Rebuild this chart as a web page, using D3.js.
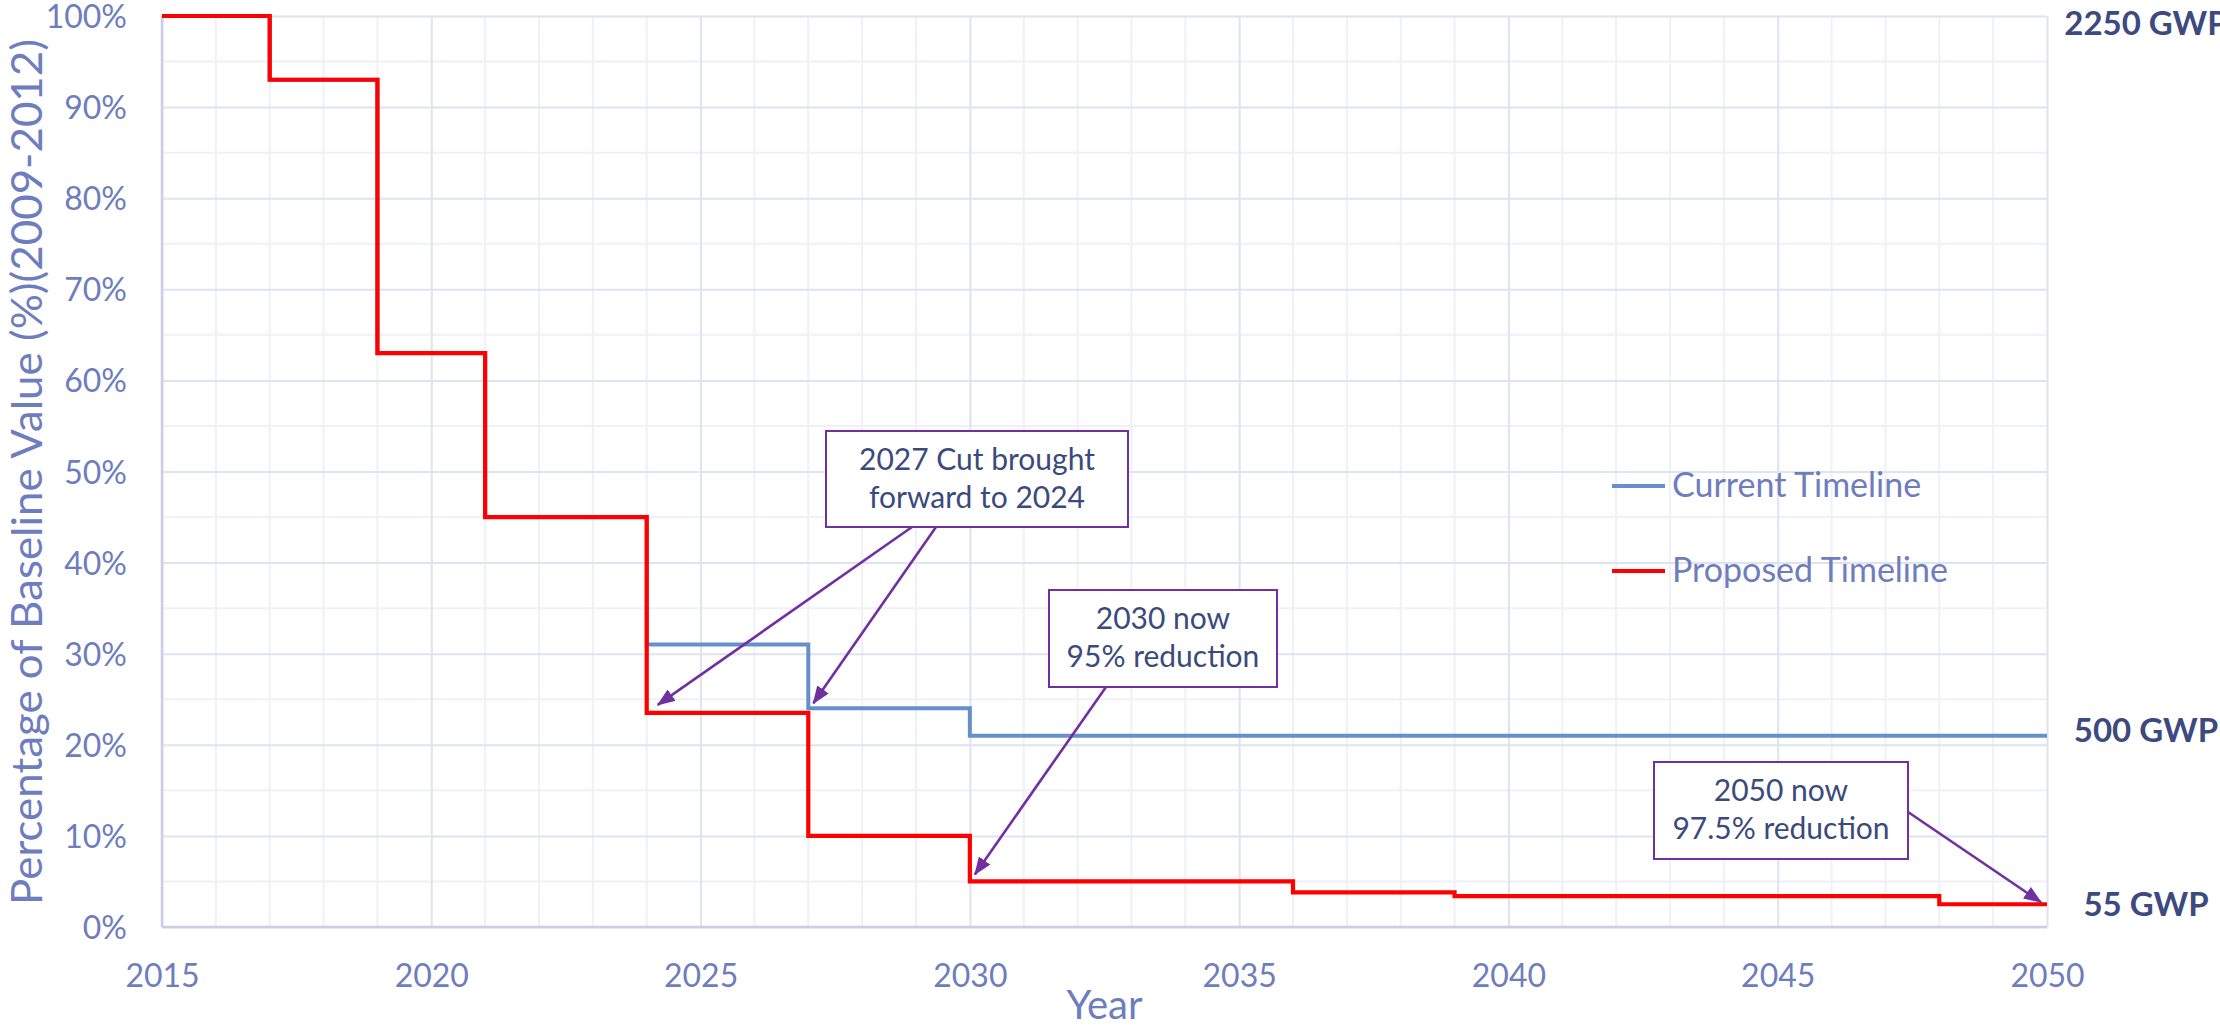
<!DOCTYPE html>
<html>
<head>
<meta charset="utf-8">
<script src="https://cdn.jsdelivr.net/npm/d3@7"></script>
<style>
  html, body { margin: 0; padding: 0; background: #ffffff; }
  svg { display: block; font-family: Lato, "Open Sans", sans-serif; }
</style>
</head>
<body>
<svg id="chart" width="2220" height="1028"></svg>
<script>
// Refrigerant phase-down steps, % of the 2009-2012 baseline
const currentYears  = [2015, 2017, 2019, 2021, 2024, 2027, 2030, 2050];
const currentValues = [100, 93, 63, 45, 31, 24, 21, 21];

const proposedYears  = [2015, 2017, 2019, 2021, 2024, 2027, 2030, 2036, 2039, 2048, 2050];
const proposedValues = [100, 93, 63, 45, 23.5, 10, 5, 3.8, 3.4, 2.5, 2.5];

const seriesNames = ["Current Timeline", "Proposed Timeline"];

const xTickValues = [2015, 2020, 2025, 2030, 2035, 2040, 2045, 2050];
const yTickValues = [0, 10, 20, 30, 40, 50, 60, 70, 80, 90, 100];

const gwpLabels = ["2250 GWP", "500 GWP", "55 GWP"];
const gwpLevels = [100, 21, 2.5];

const noteLines = [
  ["2027 Cut brought", "forward to 2024"],
  ["2030 now", "95% reduction"],
  ["2050 now", "97.5% reduction"]
];
// points each note's arrows aim at: [year, percent]
const noteTargets = [
  [[2024, 23.5], [2027, 24]],
  [[2030, 5]],
  [[2050, 2.5]]
];

const svg = d3.select("#chart");
const plot = { left: 162, right: 2047, top: 16, bottom: 927 };

const x = d3.scaleLinear().domain([2015, 2050]).range([plot.left, plot.right]);
const y = d3.scaleLinear().domain([0, 100]).range([plot.bottom, plot.top]);

const tickColor = "#6e7dbd";
const noteColor = "#3b4a7d";
const arrowColor = "#7030a0";
const blue = "#6690cb";
const red = "#ff0000";

// ---- gridlines ----
const grid = svg.append("g");
grid.selectAll("line.vminor")
  .data(d3.range(2016, 2050).filter(v => v % 5 !== 0))
  .join("line")
  .attr("x1", d => x(d)).attr("x2", d => x(d))
  .attr("y1", plot.top).attr("y2", plot.bottom)
  .attr("stroke", "#eff0f8").attr("stroke-width", 2);
grid.selectAll("line.hminor")
  .data(d3.range(5, 100, 10))
  .join("line")
  .attr("x1", plot.left).attr("x2", plot.right)
  .attr("y1", d => y(d)).attr("y2", d => y(d))
  .attr("stroke", "#eff0f8").attr("stroke-width", 2);

// major gridlines come from the axes themselves
const xAxisGrid = d3.axisBottom(x).tickValues(xTickValues).tickSize(-(plot.bottom - plot.top)).tickFormat("");
const yAxisGrid = d3.axisLeft(y).tickValues(yTickValues).tickSize(-(plot.right - plot.left)).tickFormat("");
const gx = svg.append("g").attr("transform", `translate(0,${plot.bottom})`).call(xAxisGrid);
const gy = svg.append("g").attr("transform", `translate(${plot.left},0)`).call(yAxisGrid);
[gx, gy].forEach(g => {
  g.select(".domain").remove();
  g.selectAll(".tick line").attr("stroke", "#dfe2f0").attr("stroke-width", 2);
});

// axis baselines
svg.append("line")
  .attr("x1", plot.left).attr("x2", plot.left)
  .attr("y1", plot.top).attr("y2", plot.bottom)
  .attr("stroke", "#cbcfe6").attr("stroke-width", 2.5);
svg.append("line")
  .attr("x1", plot.left).attr("x2", plot.right)
  .attr("y1", plot.bottom).attr("y2", plot.bottom)
  .attr("stroke", "#cbcfe6").attr("stroke-width", 2.5);

// ---- tick labels ----
const xLabels = d3.axisBottom(x).tickValues(xTickValues).tickSize(0).tickPadding(0).tickFormat(d3.format("d"));
const gxl = svg.append("g").attr("transform", `translate(0,${plot.bottom})`).call(xLabels);
gxl.select(".domain").remove();
gxl.selectAll("text")
  .attr("y", 60).attr("dy", null)
  .attr("font-family", "Lato").attr("font-size", 32).attr("fill", tickColor);

const yLabels = d3.axisLeft(y).tickValues(yTickValues).tickSize(0).tickPadding(35).tickFormat(d => d + "%");
const gyl = svg.append("g").attr("transform", `translate(${plot.left},0)`).call(yLabels);
gyl.select(".domain").remove();
gyl.selectAll("text")
  .attr("dy", "0.36em")
  .attr("font-family", "Lato").attr("font-size", 32).attr("fill", tickColor);

// ---- axis titles ----
svg.append("text")
  .attr("transform", `translate(42,${472}) rotate(-90)`)
  .attr("text-anchor", "middle")
  .attr("font-size", 43).attr("fill", tickColor)
  .attr("textLength", 866).attr("lengthAdjust", "spacingAndGlyphs")
  .text("Percentage of Baseline Value (%)(2009-2012)");

svg.append("text")
  .attr("x", (plot.left + plot.right) / 2).attr("y", 1019)
  .attr("text-anchor", "middle")
  .attr("font-size", 40).attr("fill", tickColor)
  .text("Year");

// ---- step lines ----
const stepLine = d3.line().curve(d3.curveStepAfter).x(d => x(d[0])).y(d => y(d[1]));
const currentData = d3.zip(currentYears, currentValues);
const proposedData = d3.zip(proposedYears, proposedValues);

svg.append("path").datum(currentData)
  .attr("d", stepLine).attr("fill", "none")
  .attr("stroke", blue).attr("stroke-width", 4);
svg.append("path").datum(proposedData)
  .attr("d", stepLine).attr("fill", "none")
  .attr("stroke", red).attr("stroke-width", 4.2);

// ---- legend ----
const legend = svg.append("g").attr("transform", "translate(1612,486)");
const legendItems = legend.selectAll("g")
  .data(seriesNames.map((n, i) => ({ name: n, color: i === 0 ? blue : red })))
  .join("g")
  .attr("transform", (d, i) => `translate(0,${i * 85})`);
legendItems.append("line")
  .attr("x1", 0).attr("x2", 53).attr("y1", 0).attr("y2", 0)
  .attr("stroke", d => d.color).attr("stroke-width", 4);
legendItems.append("text")
  .attr("x", 60).attr("y", 11)
  .attr("font-size", 34).attr("fill", tickColor)
  .text(d => d.name);

// ---- GWP labels on the right ----
const gwpDy = [19, 6, 12];
svg.append("g").selectAll("text")
  .data(gwpLabels)
  .join("text")
  .attr("x", 2146)
  .attr("y", (d, i) => y(gwpLevels[i]) + gwpDy[i])
  .attr("text-anchor", "middle")
  .attr("font-size", 33).attr("font-weight", 700).attr("fill", "#3c4a7f")
  .text(d => d);

// ---- notes with arrows ----
const defs = svg.append("defs");
defs.append("marker")
  .attr("id", "arrowhead")
  .attr("viewBox", "0 0 18 14")
  .attr("refX", 17).attr("refY", 7)
  .attr("markerWidth", 18).attr("markerHeight", 14)
  .attr("markerUnits", "userSpaceOnUse")
  .attr("orient", "auto")
  .append("path")
  .attr("d", "M0,0 L18,7 L0,14 Z")
  .attr("fill", arrowColor);

// box geometry [x, y, w, h]; arrow start points and tip offsets (px)
const noteBoxes = [
  [826, 431, 302, 96],
  [1049, 590, 228, 97],
  [1654, 762, 254, 97]
];
const noteStarts = [
  [[912, 527], [936, 527]],
  [[1106, 687]],
  [[1908, 812]]
];
const tipOffsets = [
  [[11, -8], [5, -5]],
  [[5, -7]],
  [[-6, -2]]
];

const notes = svg.append("g");
noteLines.forEach((lines, i) => {
  noteTargets[i].forEach((t, j) => {
    const [sx, sy] = noteStarts[i][j];
    notes.append("line")
      .attr("x1", sx).attr("y1", sy)
      .attr("x2", x(t[0]) + tipOffsets[i][j][0])
      .attr("y2", y(t[1]) + tipOffsets[i][j][1])
      .attr("stroke", arrowColor).attr("stroke-width", 2.6)
      .attr("marker-end", "url(#arrowhead)");
  });
  const [bx, by, bw, bh] = noteBoxes[i];
  notes.append("rect")
    .attr("x", bx).attr("y", by).attr("width", bw).attr("height", bh)
    .attr("fill", "#ffffff").attr("stroke", arrowColor).attr("stroke-width", 2);
  lines.forEach((ln, k) => {
    notes.append("text")
      .attr("x", bx + bw / 2).attr("y", by + 39 + k * 38)
      .attr("text-anchor", "middle")
      .attr("font-size", 30).attr("fill", noteColor)
      .text(ln);
  });
});
</script>
</body>
</html>
